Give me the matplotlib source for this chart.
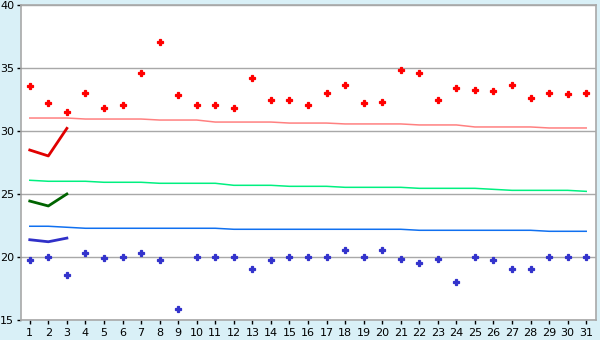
import matplotlib
matplotlib.use("Agg")
import matplotlib.pyplot as plt

days = list(range(1, 32))

red_points = [33.55, 32.2, 31.48, 32.99, 31.8, 32.04, 34.58, 37.04, 32.83, 32.04,
              32.04, 31.8, 34.18, 32.44, 32.44, 32.04, 32.99, 33.63, 32.2, 32.28,
              34.82, 34.58, 32.44, 33.39, 33.23, 33.15, 33.63, 32.6, 32.99, 32.91, 32.99]
blue_points = [19.74, 20.0, 18.55, 20.29, 19.9, 20.0, 20.29, 19.74, 15.85, 20.0,
               20.0, 20.0, 19.02, 19.74, 20.0, 20.0, 20.0, 20.53, 20.0, 20.53,
               19.81, 19.5, 19.81, 18.0, 20.0, 19.74, 19.02, 19.02, 20.0, 20.0, 20.0]

red_avg = [31.03, 31.03, 31.03, 30.95, 30.95, 30.95, 30.95, 30.87, 30.87, 30.87,
           30.71, 30.71, 30.71, 30.71, 30.63, 30.63, 30.63, 30.56, 30.56, 30.56,
           30.56, 30.48, 30.48, 30.48, 30.32, 30.32, 30.32, 30.32, 30.24, 30.24, 30.24]
green_avg = [26.09, 26.01, 26.01, 26.01, 25.93, 25.93, 25.93, 25.85, 25.85, 25.85,
             25.85, 25.69, 25.69, 25.69, 25.61, 25.61, 25.61, 25.53, 25.53, 25.53,
             25.53, 25.45, 25.45, 25.45, 25.45, 25.37, 25.29, 25.29, 25.29, 25.29, 25.21]
blue_avg = [22.44, 22.44, 22.36, 22.28, 22.28, 22.28, 22.28, 22.28, 22.28, 22.28,
            22.28, 22.20, 22.20, 22.20, 22.20, 22.20, 22.20, 22.20, 22.20, 22.20,
            22.20, 22.12, 22.12, 22.12, 22.12, 22.12, 22.12, 22.12, 22.04, 22.04, 22.04]

short_days = [1, 2, 3]
red_recent = [28.49, 28.02, 30.21]
green_recent = [24.44, 24.05, 25.0]
blue_recent = [21.37, 21.21, 21.5]

fig = plt.figure(figsize=(6, 3.4), dpi=100, facecolor="#d9f0f7")
ax = fig.add_axes([20.5 / 600, 1 - 320 / 340, 575 / 600, 315 / 340])
ax.set_facecolor("white")

ax.set_xlim(0.5, 31.5)
ax.set_ylim(15, 40)
ax.set_yticks([15, 20, 25, 30, 35, 40])
ax.set_xticks(days)
ax.yaxis.grid(True, color="#a8a8a8", linewidth=1)
ax.set_axisbelow(True)
for s in ax.spines.values():
    s.set_color("#a8a8a8")
    s.set_linewidth(1.2)
ax.tick_params(axis="both", direction="out", color="black", length=3, width=1,
               labelsize=8, pad=1.5)
ax.tick_params(axis="x", pad=2.5)

ax.plot(days, red_avg, color="#ff8080", linewidth=1.1)
ax.plot(days, green_avg, color="#00f080", linewidth=1.1)
ax.plot(days, blue_avg, color="#1070f0", linewidth=1.1)

ax.plot(short_days, red_recent, color="#e00000", linewidth=2)
ax.plot(short_days, green_recent, color="#006400", linewidth=2)
ax.plot(short_days, blue_recent, color="#3030c8", linewidth=2)

ax.plot(days, red_points, linestyle="none", marker="P", markersize=4.5,
        color="#ff0000", markeredgecolor="#ff0000", markeredgewidth=0.9)
ax.plot(days, blue_points, linestyle="none", marker="P", markersize=4.5,
        color="#3333cc", markeredgecolor="#3333cc", markeredgewidth=0.9)

fig.savefig("out.png", dpi=100, facecolor=fig.get_facecolor())
